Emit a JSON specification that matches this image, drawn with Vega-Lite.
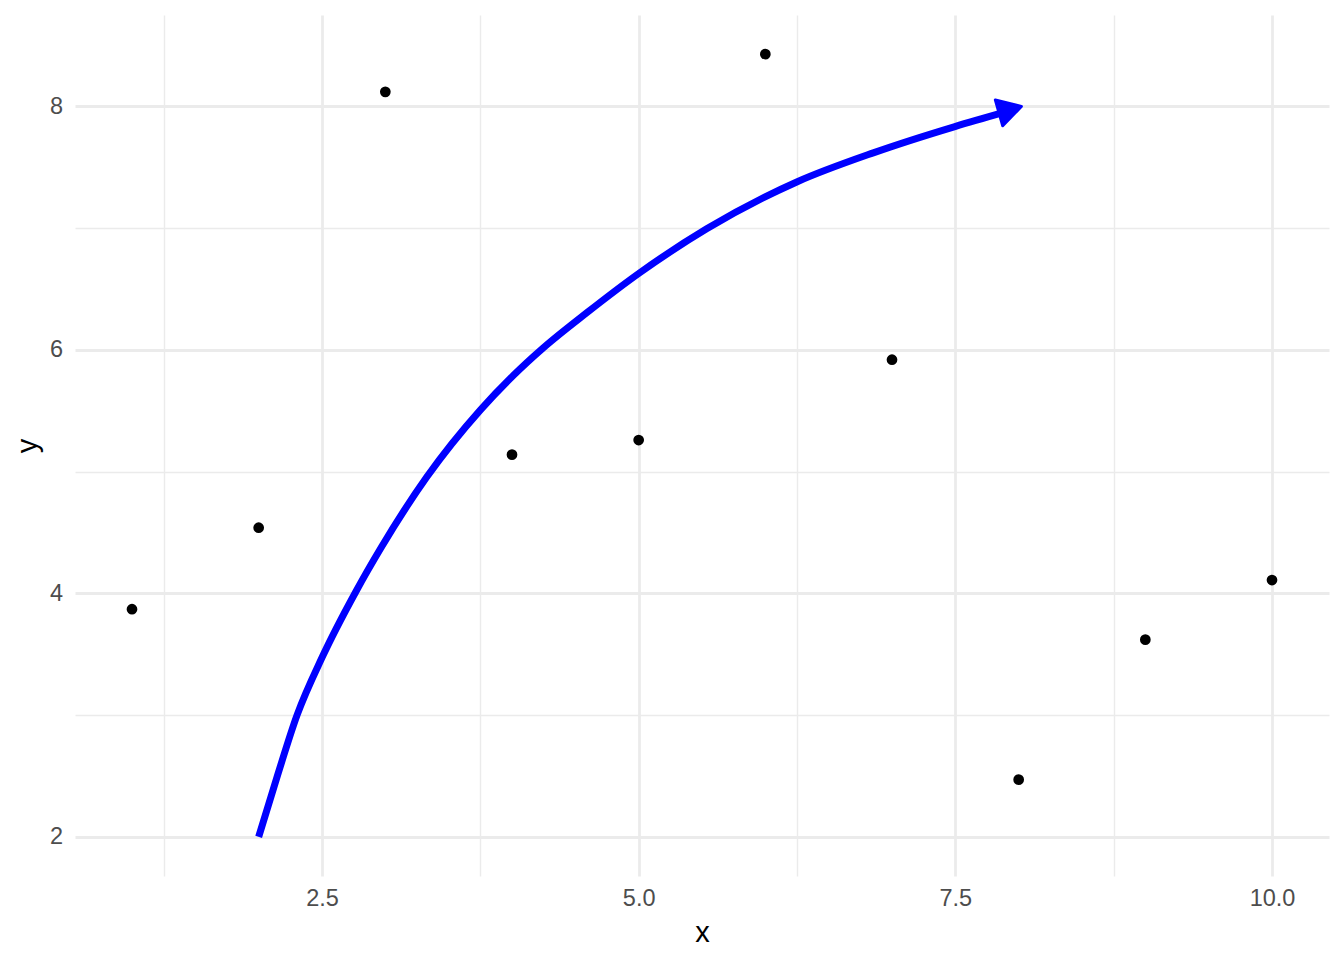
{
  "$schema": "https://vega.github.io/schema/vega-lite/v6.json",
  "autosize": "none",
  "width": 1254,
  "height": 861,
  "padding": {"left": 75, "top": 15, "right": 15, "bottom": 84},
  "background": "white",
  "config": {
    "view": {"stroke": null},
    "font": "Liberation Sans",
    "axis": {
      "domain": false,
      "ticks": false,
      "labelFont": "Liberation Sans",
      "labelFontSize": 23.5,
      "labelColor": "#4D4D4D",
      "titleFont": "Liberation Sans",
      "titleFontSize": 29,
      "titleFontWeight": "normal",
      "titleColor": "#000000",
      "gridColor": "#EBEBEB"
    }
  },
  "datasets": {
    "pts": [
      {"x": 1, "y": 3.87},
      {"x": 2, "y": 4.54},
      {"x": 3, "y": 8.12},
      {"x": 4, "y": 5.14},
      {"x": 5, "y": 5.26},
      {"x": 6, "y": 8.43},
      {"x": 7, "y": 5.92},
      {"x": 8, "y": 2.47},
      {"x": 9, "y": 3.62},
      {"x": 10, "y": 4.11}
    ],
    "curve": [
      {"i": 0, "x": 2.0, "y": 2.0},
      {"i": 1, "x": 2.145, "y": 2.492},
      {"i": 2, "x": 2.303, "y": 3.0},
      {"i": 3, "x": 2.502, "y": 3.477},
      {"i": 4, "x": 2.768, "y": 4.016},
      {"i": 5, "x": 2.966, "y": 4.375},
      {"i": 6, "x": 3.327, "y": 4.956},
      {"i": 7, "x": 3.753, "y": 5.51},
      {"i": 8, "x": 4.01, "y": 5.79},
      {"i": 9, "x": 4.247, "y": 6.017},
      {"i": 10, "x": 4.59, "y": 6.305},
      {"i": 11, "x": 5.003, "y": 6.63},
      {"i": 12, "x": 5.537, "y": 6.995},
      {"i": 13, "x": 6.248, "y": 7.38},
      {"i": 14, "x": 6.852, "y": 7.619},
      {"i": 15, "x": 7.497, "y": 7.835},
      {"i": 16, "x": 7.89, "y": 7.953}
    ],
    "head": [
      {"x": 7.933, "y": 7.974}
    ]
  },
  "layer": [
    {
      "data": {"name": "pts"},
      "mark": {"type": "point", "filled": true, "color": "#000000", "opacity": 1, "size": 115},
      "encoding": {
        "x": {
          "field": "x", "type": "quantitative",
          "scale": {"domain": [0.55, 10.45], "nice": false, "zero": false},
          "axis": {
            "values": [1.25, 2.5, 3.75, 5, 6.25, 7.5, 8.75, 10],
            "labelExpr": "datum.value % 2.5 === 0 ? format(datum.value, '.1f') : ''",
            "labelPadding": 10.5,
            "titlePadding": 8,
            "gridWidth": {"condition": {"test": "datum.value % 2.5 === 0", "value": 2.8}, "value": 1.4}
          }
        },
        "y": {
          "field": "y", "type": "quantitative",
          "scale": {"domain": [1.6785, 8.7515], "nice": false, "zero": false},
          "axis": {
            "values": [2, 3, 4, 5, 6, 7, 8],
            "labelExpr": "datum.value % 2 === 0 ? format(datum.value, 'd') : ''",
            "labelPadding": 12.5,
            "titlePadding": 7,
            "gridWidth": {"condition": {"test": "datum.value % 2 === 0", "value": 2.8}, "value": 1.4}
          }
        }
      }
    },
    {
      "data": {"name": "curve"},
      "mark": {"type": "line", "color": "#0000FF", "strokeWidth": 7, "interpolate": "monotone", "strokeCap": "butt"},
      "encoding": {
        "x": {"field": "x", "type": "quantitative"},
        "y": {"field": "y", "type": "quantitative"},
        "order": {"field": "i", "type": "quantitative"}
      }
    },
    {
      "data": {"name": "head"},
      "mark": {"type": "point", "shape": "triangle-right", "filled": true, "color": "#0000FF", "fill": "#0000FF", "stroke": "#0000FF", "strokeWidth": 3, "strokeJoin": "round", "opacity": 1, "size": 720, "angle": -16},
      "encoding": {
        "x": {"field": "x", "type": "quantitative"},
        "y": {"field": "y", "type": "quantitative"}
      }
    }
  ]
}
